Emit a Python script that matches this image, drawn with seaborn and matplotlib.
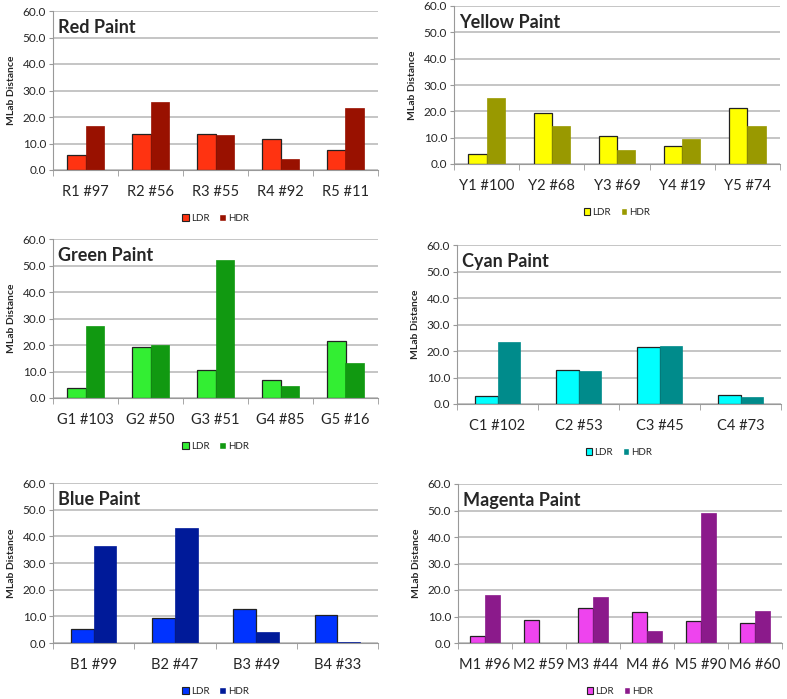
import pandas as pd
import matplotlib
matplotlib.use("Agg")
import matplotlib.pyplot as plt
import seaborn as sns

# Data
red_labels = ["R1 #97", "R2 #56", "R3 #55", "R4 #92", "R5 #11"]
red_ldr = [5.8, 13.4, 13.4, 11.8, 7.5]
red_hdr = [16.7, 25.6, 13.3, 4.2, 23.5]

yellow_labels = ["Y1 #100", "Y2 #68", "Y3 #69", "Y4 #19", "Y5 #74"]
yellow_ldr = [3.7, 19.3, 10.6, 6.7, 21.4]
yellow_hdr = [25.2, 14.3, 5.4, 9.5, 14.3]

green_labels = ["G1 #103", "G2 #50", "G3 #51", "G4 #85", "G5 #16"]
green_ldr = [3.8, 19.4, 10.6, 6.8, 21.5]
green_hdr = [27.3, 20.0, 52.2, 4.4, 13.1]

cyan_labels = ["C1 #102", "C2 #53", "C3 #45", "C4 #73"]
cyan_ldr = [3.1, 12.7, 21.4, 3.4]
cyan_hdr = [23.3, 12.3, 22.0, 2.8]

blue_labels = ["B1 #99", "B2 #47", "B3 #49", "B4 #33"]
blue_ldr = [5.4, 9.2, 12.8, 10.4]
blue_hdr = [36.4, 43.0, 4.1, 0.5]

magenta_labels = ["M1 #96", "M2 #59", "M3 #44", "M4 #6", "M5 #90", "M6 #60"]
magenta_ldr = [2.8, 8.8, 13.2, 11.7, 8.3, 7.4]
magenta_hdr = [18.0, 0.0, 17.4, 4.4, 49.1, 11.9]

panels = [
    ("Red Paint", red_labels, red_ldr, red_hdr, ["#FF3311", "#991100"], (53, 378, 11, 170)),
    ("Yellow Paint", yellow_labels, yellow_ldr, yellow_hdr, ["#FFFF00", "#999900"], (454, 780, 6, 164)),
    ("Green Paint", green_labels, green_ldr, green_hdr, ["#33EE33", "#119911"], (53, 378, 239, 398)),
    ("Cyan Paint", cyan_labels, cyan_ldr, cyan_hdr, ["#00FFFF", "#008B8B"], (457, 781, 245, 404)),
    ("Blue Paint", blue_labels, blue_ldr, blue_hdr, ["#0033FF", "#001A99"], (53, 378, 483, 643)),
    ("Magenta Paint", magenta_labels, magenta_ldr, magenta_hdr, ["#EE44EE", "#8B1A8B"], (458, 782, 484, 643)),
]

sns.set_style("white")
plt.rcParams["font.family"] = ["Lato", "DejaVu Sans"]

W, H = 787, 699
fig = plt.figure(figsize=(W / 100, H / 100), dpi=100)

for title, labels, ldr, hdr, colors, (x0, x1, y0, y1) in panels:
    ax = fig.add_axes([x0 / W, 1 - y1 / H, (x1 - x0) / W, (y1 - y0) / H])
    df = pd.DataFrame({
        "Sample": labels * 2,
        "MLab Distance": ldr + hdr,
        "Type": ["LDR"] * len(labels) + ["HDR"] * len(labels),
    })
    sns.barplot(df, x="Sample", y="MLab Distance", hue="Type", order=labels,
                hue_order=["LDR", "HDR"], palette=colors, width=0.56,
                saturation=1, ax=ax)
    # LDR bars have a dark outline, HDR bars do not
    for patch in ax.containers[0]:
        patch.set_edgecolor("#222222")
        patch.set_linewidth(0.9)
    for patch in ax.containers[1]:
        patch.set_edgecolor(colors[1])
        patch.set_linewidth(0.5)

    n = len(labels)
    ax.set_xlim(-0.5, n - 0.5)
    ax.set_ylim(0, 60)
    ax.set_yticks(range(0, 61, 10), labels=[f"{v:.1f}" for v in range(0, 61, 10)])
    ax.yaxis.grid(True, color="#BBBBBB", linewidth=1.2)
    ax.set_axisbelow(True)
    for s in ["top", "right"]:
        ax.spines[s].set_visible(False)
    for s in ["left", "bottom"]:
        ax.spines[s].set_color("#999999")
        ax.spines[s].set_linewidth(0.8)
    ax.tick_params(axis="y", labelsize=8.5, length=3, color="#999999", direction="out", left=True, pad=2)
    ax.tick_params(axis="x", which="major", labelsize=10.5, length=0, pad=11)
    ax.set_xticks([i - 0.5 for i in range(n + 1)], minor=True)
    ax.tick_params(axis="x", which="minor", length=4, color="#999999", direction="out", bottom=True)
    ax.set_xlabel(None)
    ax.set_ylabel("MLab Distance", fontsize=7.5, fontweight="bold", labelpad=5)
    ax.text(0.015, 0.95, title, transform=ax.transAxes, fontsize=13, fontweight="bold",
            va="top", ha="left")
    leg = ax.legend(loc="upper center", bbox_to_anchor=(0.5, -0.22), ncol=2, frameon=False,
                    fontsize=7, handlelength=0.7, handleheight=0.7, handletextpad=0.2,
                    columnspacing=1.0)
    handles = leg.legend_handles
    handles[0].set_edgecolor("#222222")
    handles[0].set_linewidth(0.8)

fig.savefig("out.png", dpi=100)
